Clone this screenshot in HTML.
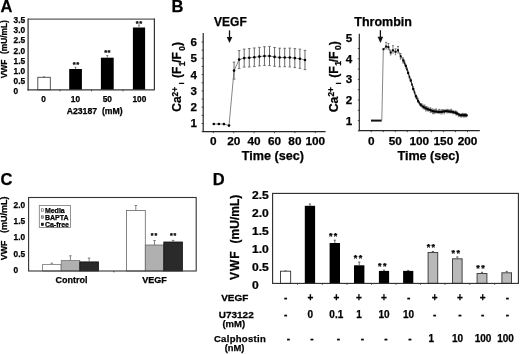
<!DOCTYPE html>
<html><head><meta charset="utf-8"><style>
html,body{margin:0;padding:0;background:#fff;}
svg{display:block;will-change:transform;filter:blur(0.3px);}
text{font-family:"Liberation Sans",sans-serif;font-weight:bold;fill:#000;stroke:#000;stroke-width:0.25px;}
</style></head><body>
<svg width="520" height="354" viewBox="0 0 520 354">
<rect width="520" height="354" fill="#fff"/>
<text x="0.40" y="11.60" font-size="16.5" text-anchor="start" >A</text>
<text x="13.60" y="93.96" font-size="8.3" text-anchor="start" >0</text>
<text x="13.60" y="83.86" font-size="8.3" text-anchor="start" >0.5</text>
<text x="13.60" y="73.76" font-size="8.3" text-anchor="start" >1.0</text>
<text x="13.60" y="63.66" font-size="8.3" text-anchor="start" >1.5</text>
<text x="13.60" y="53.56" font-size="8.3" text-anchor="start" >2.0</text>
<text x="13.60" y="43.46" font-size="8.3" text-anchor="start" >2.5</text>
<text x="13.60" y="33.36" font-size="8.3" text-anchor="start" >3.0</text>
<text x="13.60" y="23.26" font-size="8.3" text-anchor="start" >3.5</text>
<text transform="translate(6.60,78.30) rotate(-90) scale(1.0,1)" font-size="8.4" text-anchor="start">VWF</text>
<text transform="translate(6.70,54.10) rotate(-90) scale(1.0,1)" font-size="8.4" text-anchor="start">(mU/mL)</text>
<rect x="37.80" y="77.30" width="12.50" height="12.50" fill="#fff" stroke="#444" stroke-width="0.9"/>
<line x1="42.90" y1="76.90" x2="45.10" y2="76.90" stroke="#555" stroke-width="0.8"/>
<rect x="69.20" y="69.00" width="12.70" height="20.80" fill="#000" stroke="none" stroke-width="1"/>
<line x1="75.55" y1="69.00" x2="75.55" y2="67.30" stroke="#666" stroke-width="0.9"/>
<line x1="74.65" y1="67.30" x2="76.45" y2="67.30" stroke="#666" stroke-width="0.9"/>
<text x="74.35" y="66.92" font-size="7.6" text-anchor="middle" >*</text>
<text x="77.75" y="66.92" font-size="7.6" text-anchor="middle" >*</text>
<rect x="100.90" y="57.70" width="12.80" height="32.10" fill="#000" stroke="none" stroke-width="1"/>
<line x1="107.30" y1="57.70" x2="107.30" y2="55.50" stroke="#666" stroke-width="0.9"/>
<line x1="106.40" y1="55.50" x2="108.20" y2="55.50" stroke="#666" stroke-width="0.9"/>
<text x="105.65" y="55.42" font-size="7.6" text-anchor="middle" >*</text>
<text x="109.05" y="55.42" font-size="7.6" text-anchor="middle" >*</text>
<rect x="132.90" y="27.50" width="12.20" height="62.30" fill="#000" stroke="none" stroke-width="1"/>
<line x1="139.00" y1="27.50" x2="139.00" y2="25.00" stroke="#666" stroke-width="0.9"/>
<line x1="138.10" y1="25.00" x2="139.90" y2="25.00" stroke="#666" stroke-width="0.9"/>
<text x="137.35" y="25.72" font-size="7.6" text-anchor="middle" >*</text>
<text x="140.75" y="25.72" font-size="7.6" text-anchor="middle" >*</text>
<line x1="28.10" y1="19.10" x2="154.40" y2="19.10" stroke="#5a5a5a" stroke-width="1.2"/>
<line x1="154.40" y1="18.50" x2="154.40" y2="89.80" stroke="#333" stroke-width="1.2"/>
<line x1="28.10" y1="18.50" x2="28.10" y2="90.40" stroke="#3a3a3a" stroke-width="1.3"/>
<line x1="27.50" y1="89.80" x2="155.00" y2="89.80" stroke="#3a3a3a" stroke-width="1.3"/>
<line x1="60.00" y1="89.80" x2="60.00" y2="91.30" stroke="#262626" stroke-width="0.8"/>
<line x1="91.50" y1="89.80" x2="91.50" y2="91.30" stroke="#262626" stroke-width="0.8"/>
<line x1="123.00" y1="89.80" x2="123.00" y2="91.30" stroke="#262626" stroke-width="0.8"/>
<text x="43.60" y="101.66" font-size="8.3" text-anchor="middle" >0</text>
<text x="75.40" y="101.66" font-size="8.3" text-anchor="middle" >10</text>
<text x="107.30" y="101.66" font-size="8.3" text-anchor="middle" >50</text>
<text x="139.40" y="101.66" font-size="8.3" text-anchor="middle" >100</text>
<text x="66.70" y="114.00" font-size="8.7" text-anchor="start" >A23187&#160;&#160;(mM)</text>
<text x="171.40" y="11.60" font-size="16.5" text-anchor="start" >B</text>
<line x1="203.20" y1="33.10" x2="203.20" y2="131.60" stroke="#262626" stroke-width="1.2"/>
<line x1="202.60" y1="131.60" x2="325.60" y2="131.60" stroke="#262626" stroke-width="1.2"/>
<line x1="201.60" y1="131.65" x2="203.20" y2="131.65" stroke="#262626" stroke-width="0.8"/>
<line x1="201.60" y1="123.50" x2="203.20" y2="123.50" stroke="#262626" stroke-width="0.8"/>
<line x1="201.60" y1="115.35" x2="203.20" y2="115.35" stroke="#262626" stroke-width="0.8"/>
<line x1="201.60" y1="107.20" x2="203.20" y2="107.20" stroke="#262626" stroke-width="0.8"/>
<line x1="201.60" y1="99.05" x2="203.20" y2="99.05" stroke="#262626" stroke-width="0.8"/>
<line x1="201.60" y1="90.90" x2="203.20" y2="90.90" stroke="#262626" stroke-width="0.8"/>
<line x1="201.60" y1="82.75" x2="203.20" y2="82.75" stroke="#262626" stroke-width="0.8"/>
<line x1="201.60" y1="74.60" x2="203.20" y2="74.60" stroke="#262626" stroke-width="0.8"/>
<line x1="201.60" y1="66.45" x2="203.20" y2="66.45" stroke="#262626" stroke-width="0.8"/>
<line x1="201.60" y1="58.30" x2="203.20" y2="58.30" stroke="#262626" stroke-width="0.8"/>
<line x1="201.60" y1="50.15" x2="203.20" y2="50.15" stroke="#262626" stroke-width="0.8"/>
<line x1="201.60" y1="42.00" x2="203.20" y2="42.00" stroke="#262626" stroke-width="0.8"/>
<line x1="213.30" y1="131.60" x2="213.30" y2="133.20" stroke="#262626" stroke-width="0.8"/>
<line x1="233.70" y1="131.60" x2="233.70" y2="133.20" stroke="#262626" stroke-width="0.8"/>
<line x1="254.10" y1="131.60" x2="254.10" y2="133.20" stroke="#262626" stroke-width="0.8"/>
<line x1="274.50" y1="131.60" x2="274.50" y2="133.20" stroke="#262626" stroke-width="0.8"/>
<line x1="294.90" y1="131.60" x2="294.90" y2="133.20" stroke="#262626" stroke-width="0.8"/>
<line x1="315.30" y1="131.60" x2="315.30" y2="133.20" stroke="#262626" stroke-width="0.8"/>
<text x="193.70" y="127.49" font-size="11.6" text-anchor="middle" >1</text>
<text x="193.70" y="111.19" font-size="11.6" text-anchor="middle" >2</text>
<text x="193.70" y="94.89" font-size="11.6" text-anchor="middle" >3</text>
<text x="193.70" y="78.59" font-size="11.6" text-anchor="middle" >4</text>
<text x="193.70" y="62.29" font-size="11.6" text-anchor="middle" >5</text>
<text x="193.70" y="45.99" font-size="11.6" text-anchor="middle" >6</text>
<text x="213.30" y="145.06" font-size="11.8" text-anchor="middle" >0</text>
<text x="233.70" y="145.06" font-size="11.8" text-anchor="middle" >20</text>
<text x="254.10" y="145.06" font-size="11.8" text-anchor="middle" >40</text>
<text x="274.50" y="145.06" font-size="11.8" text-anchor="middle" >60</text>
<text x="294.90" y="145.06" font-size="11.8" text-anchor="middle" >80</text>
<text x="315.30" y="145.06" font-size="11.8" text-anchor="middle" >100</text>
<text x="272.90" y="159.90" font-size="12.6" text-anchor="middle" >Time (sec)</text>
<text x="230.40" y="25.90" font-size="12" text-anchor="middle" >VEGF</text>
<line x1="229.50" y1="30.40" x2="229.50" y2="38.00" stroke="#111" stroke-width="1.3"/>
<path d="M226.7,37.0 L232.3,37.0 L229.5,42.9 Z" fill="#111"/>
<line x1="234.06" y1="62.10" x2="234.06" y2="79.10" stroke="#555" stroke-width="0.9"/>
<line x1="232.76" y1="62.10" x2="235.36" y2="62.10" stroke="#555" stroke-width="0.8"/>
<line x1="232.76" y1="79.10" x2="235.36" y2="79.10" stroke="#555" stroke-width="0.8"/>
<line x1="239.12" y1="50.60" x2="239.12" y2="68.60" stroke="#555" stroke-width="0.9"/>
<line x1="237.82" y1="50.60" x2="240.43" y2="50.60" stroke="#555" stroke-width="0.8"/>
<line x1="237.82" y1="68.60" x2="240.43" y2="68.60" stroke="#555" stroke-width="0.8"/>
<line x1="244.19" y1="49.10" x2="244.19" y2="67.10" stroke="#555" stroke-width="0.9"/>
<line x1="242.89" y1="49.10" x2="245.49" y2="49.10" stroke="#555" stroke-width="0.8"/>
<line x1="242.89" y1="67.10" x2="245.49" y2="67.10" stroke="#555" stroke-width="0.8"/>
<line x1="249.25" y1="48.55" x2="249.25" y2="66.95" stroke="#555" stroke-width="0.9"/>
<line x1="247.95" y1="48.55" x2="250.56" y2="48.55" stroke="#555" stroke-width="0.8"/>
<line x1="247.95" y1="66.95" x2="250.56" y2="66.95" stroke="#555" stroke-width="0.8"/>
<line x1="254.32" y1="47.95" x2="254.32" y2="66.55" stroke="#555" stroke-width="0.9"/>
<line x1="253.02" y1="47.95" x2="255.62" y2="47.95" stroke="#555" stroke-width="0.8"/>
<line x1="253.02" y1="66.55" x2="255.62" y2="66.55" stroke="#555" stroke-width="0.8"/>
<line x1="259.38" y1="47.30" x2="259.38" y2="65.90" stroke="#555" stroke-width="0.9"/>
<line x1="258.08" y1="47.30" x2="260.69" y2="47.30" stroke="#555" stroke-width="0.8"/>
<line x1="258.08" y1="65.90" x2="260.69" y2="65.90" stroke="#555" stroke-width="0.8"/>
<line x1="264.45" y1="46.70" x2="264.45" y2="65.50" stroke="#555" stroke-width="0.9"/>
<line x1="263.15" y1="46.70" x2="265.75" y2="46.70" stroke="#555" stroke-width="0.8"/>
<line x1="263.15" y1="65.50" x2="265.75" y2="65.50" stroke="#555" stroke-width="0.8"/>
<line x1="269.51" y1="46.40" x2="269.51" y2="65.60" stroke="#555" stroke-width="0.9"/>
<line x1="268.21" y1="46.40" x2="270.81" y2="46.40" stroke="#555" stroke-width="0.8"/>
<line x1="268.21" y1="65.60" x2="270.81" y2="65.60" stroke="#555" stroke-width="0.8"/>
<line x1="274.58" y1="47.50" x2="274.58" y2="66.30" stroke="#555" stroke-width="0.9"/>
<line x1="273.28" y1="47.50" x2="275.88" y2="47.50" stroke="#555" stroke-width="0.8"/>
<line x1="273.28" y1="66.30" x2="275.88" y2="66.30" stroke="#555" stroke-width="0.8"/>
<line x1="279.64" y1="48.20" x2="279.64" y2="66.80" stroke="#555" stroke-width="0.9"/>
<line x1="278.34" y1="48.20" x2="280.94" y2="48.20" stroke="#555" stroke-width="0.8"/>
<line x1="278.34" y1="66.80" x2="280.94" y2="66.80" stroke="#555" stroke-width="0.8"/>
<line x1="284.71" y1="48.30" x2="284.71" y2="66.70" stroke="#555" stroke-width="0.9"/>
<line x1="283.41" y1="48.30" x2="286.01" y2="48.30" stroke="#555" stroke-width="0.8"/>
<line x1="283.41" y1="66.70" x2="286.01" y2="66.70" stroke="#555" stroke-width="0.8"/>
<line x1="289.77" y1="48.10" x2="289.77" y2="66.90" stroke="#555" stroke-width="0.9"/>
<line x1="288.47" y1="48.10" x2="291.07" y2="48.10" stroke="#555" stroke-width="0.8"/>
<line x1="288.47" y1="66.90" x2="291.07" y2="66.90" stroke="#555" stroke-width="0.8"/>
<line x1="294.84" y1="48.60" x2="294.84" y2="67.60" stroke="#555" stroke-width="0.9"/>
<line x1="293.54" y1="48.60" x2="296.14" y2="48.60" stroke="#555" stroke-width="0.8"/>
<line x1="293.54" y1="67.60" x2="296.14" y2="67.60" stroke="#555" stroke-width="0.8"/>
<line x1="299.90" y1="49.15" x2="299.90" y2="68.35" stroke="#555" stroke-width="0.9"/>
<line x1="298.60" y1="49.15" x2="301.20" y2="49.15" stroke="#555" stroke-width="0.8"/>
<line x1="298.60" y1="68.35" x2="301.20" y2="68.35" stroke="#555" stroke-width="0.8"/>
<line x1="304.97" y1="50.40" x2="304.97" y2="69.60" stroke="#555" stroke-width="0.9"/>
<line x1="303.67" y1="50.40" x2="306.27" y2="50.40" stroke="#555" stroke-width="0.8"/>
<line x1="303.67" y1="69.60" x2="306.27" y2="69.60" stroke="#555" stroke-width="0.8"/>
<polyline points="213.80,124.00 218.87,124.00 223.93,124.10 229.00,125.60 234.06,70.60 239.12,59.60 244.19,58.10 249.25,57.75 254.32,57.25 259.38,56.60 264.45,56.10 269.51,56.00 274.58,56.90 279.64,57.50 284.71,57.50 289.77,57.50 294.84,58.10 299.90,58.75 304.97,60.00" fill="none" stroke="#666" stroke-width="0.8"/>
<circle cx="213.80" cy="124.00" r="1.3" fill="#000"/>
<circle cx="218.87" cy="124.00" r="1.3" fill="#000"/>
<circle cx="223.93" cy="124.10" r="1.3" fill="#000"/>
<circle cx="229.00" cy="125.60" r="1.3" fill="#000"/>
<circle cx="234.06" cy="70.60" r="1.3" fill="#000"/>
<circle cx="239.12" cy="59.60" r="1.3" fill="#000"/>
<circle cx="244.19" cy="58.10" r="1.3" fill="#000"/>
<circle cx="249.25" cy="57.75" r="1.3" fill="#000"/>
<circle cx="254.32" cy="57.25" r="1.3" fill="#000"/>
<circle cx="259.38" cy="56.60" r="1.3" fill="#000"/>
<circle cx="264.45" cy="56.10" r="1.3" fill="#000"/>
<circle cx="269.51" cy="56.00" r="1.3" fill="#000"/>
<circle cx="274.58" cy="56.90" r="1.3" fill="#000"/>
<circle cx="279.64" cy="57.50" r="1.3" fill="#000"/>
<circle cx="284.71" cy="57.50" r="1.3" fill="#000"/>
<circle cx="289.77" cy="57.50" r="1.3" fill="#000"/>
<circle cx="294.84" cy="58.10" r="1.3" fill="#000"/>
<circle cx="299.90" cy="58.75" r="1.3" fill="#000"/>
<circle cx="304.97" cy="60.00" r="1.3" fill="#000"/>
<g transform="translate(181.10,110.40) rotate(-90) scale(1.0,1)">
<text x="-1.3" y="0" font-size="12">Ca</text>
<text x="14.0" y="-3.4" font-size="8.2">2+</text>
<text x="26.0" y="3.3" font-size="7.5">i</text>
<text x="32.5" y="0" font-size="12">(F</text>
<text x="44.2" y="3.4" font-size="8.3">1</text>
<text x="47.6" y="0" font-size="12">/F</text>
<text x="59.6" y="3.4" font-size="8.3">0</text>
<text x="64.4" y="0" font-size="12">)</text>
</g>
<line x1="359.30" y1="33.70" x2="359.30" y2="130.70" stroke="#262626" stroke-width="1.2"/>
<line x1="358.70" y1="130.70" x2="479.80" y2="130.70" stroke="#262626" stroke-width="1.2"/>
<line x1="357.80" y1="130.90" x2="359.30" y2="130.90" stroke="#262626" stroke-width="0.8"/>
<line x1="357.80" y1="120.60" x2="359.30" y2="120.60" stroke="#262626" stroke-width="0.8"/>
<line x1="357.80" y1="110.30" x2="359.30" y2="110.30" stroke="#262626" stroke-width="0.8"/>
<line x1="357.80" y1="100.00" x2="359.30" y2="100.00" stroke="#262626" stroke-width="0.8"/>
<line x1="357.80" y1="89.70" x2="359.30" y2="89.70" stroke="#262626" stroke-width="0.8"/>
<line x1="357.80" y1="79.40" x2="359.30" y2="79.40" stroke="#262626" stroke-width="0.8"/>
<line x1="357.80" y1="69.10" x2="359.30" y2="69.10" stroke="#262626" stroke-width="0.8"/>
<line x1="357.80" y1="58.80" x2="359.30" y2="58.80" stroke="#262626" stroke-width="0.8"/>
<line x1="357.80" y1="48.50" x2="359.30" y2="48.50" stroke="#262626" stroke-width="0.8"/>
<line x1="371.20" y1="130.70" x2="371.20" y2="132.20" stroke="#262626" stroke-width="0.8"/>
<line x1="383.24" y1="130.70" x2="383.24" y2="132.20" stroke="#262626" stroke-width="0.8"/>
<line x1="395.27" y1="130.70" x2="395.27" y2="132.20" stroke="#262626" stroke-width="0.8"/>
<line x1="407.31" y1="130.70" x2="407.31" y2="132.20" stroke="#262626" stroke-width="0.8"/>
<line x1="419.35" y1="130.70" x2="419.35" y2="132.20" stroke="#262626" stroke-width="0.8"/>
<line x1="431.39" y1="130.70" x2="431.39" y2="132.20" stroke="#262626" stroke-width="0.8"/>
<line x1="443.42" y1="130.70" x2="443.42" y2="132.20" stroke="#262626" stroke-width="0.8"/>
<line x1="455.46" y1="130.70" x2="455.46" y2="132.20" stroke="#262626" stroke-width="0.8"/>
<line x1="467.50" y1="130.70" x2="467.50" y2="132.20" stroke="#262626" stroke-width="0.8"/>
<text x="349.00" y="124.59" font-size="11.6" text-anchor="middle" >1</text>
<text x="349.00" y="103.99" font-size="11.6" text-anchor="middle" >2</text>
<text x="349.00" y="83.39" font-size="11.6" text-anchor="middle" >3</text>
<text x="349.00" y="62.79" font-size="11.6" text-anchor="middle" >4</text>
<text x="349.00" y="42.19" font-size="11.6" text-anchor="middle" >5</text>
<text x="371.20" y="144.56" font-size="11.8" text-anchor="middle" >0</text>
<text x="395.27" y="144.56" font-size="11.8" text-anchor="middle" >50</text>
<text x="419.35" y="144.56" font-size="11.8" text-anchor="middle" >100</text>
<text x="443.42" y="144.56" font-size="11.8" text-anchor="middle" >150</text>
<text x="467.50" y="144.56" font-size="11.8" text-anchor="middle" >200</text>
<text x="428.50" y="159.90" font-size="12.6" text-anchor="middle" >Time (sec)</text>
<text x="383.10" y="25.80" font-size="12.5" text-anchor="middle" >Thrombin</text>
<line x1="380.40" y1="30.20" x2="380.40" y2="37.80" stroke="#111" stroke-width="1.3"/>
<path d="M377.6,36.8 L383.2,36.8 L380.4,43.0 Z" fill="#111"/>
<g transform="translate(337.60,110.90) rotate(-90) scale(1.02,1)">
<text x="-1.3" y="0" font-size="12">Ca</text>
<text x="14.0" y="-3.4" font-size="8.2">2+</text>
<text x="26.0" y="3.3" font-size="7.5">i</text>
<text x="32.5" y="0" font-size="12">(F</text>
<text x="44.2" y="3.4" font-size="8.3">1</text>
<text x="47.6" y="0" font-size="12">/F</text>
<text x="59.6" y="3.4" font-size="8.3">0</text>
<text x="64.4" y="0" font-size="12">)</text>
</g>
<line x1="371.00" y1="120.60" x2="381.70" y2="120.60" stroke="#111" stroke-width="2.0"/>
<line x1="381.80" y1="120.60" x2="383.30" y2="49.40" stroke="#777" stroke-width="0.9"/>
<polyline points="383.50,49.20 384.80,47.85 386.10,46.50 387.25,46.80 388.40,47.10 389.55,49.85 390.70,52.60 391.85,51.45 393.00,50.30 394.25,51.05 395.50,51.80 396.75,51.05 398.00,50.30 399.35,53.30 400.70,56.30 402.05,58.40 403.40,60.50" fill="none" stroke="#555" stroke-width="0.9" stroke-linejoin="round"/>
<polyline points="403.40,60.50 404.60,63.15 405.80,65.80 407.00,69.45 408.20,73.10 409.45,76.75 410.70,80.40 412.00,84.70 413.30,89.00 414.55,92.55 415.80,96.10 416.90,98.50 418.00,100.90 419.30,102.75 420.60,104.60 422.05,105.85 423.50,107.10 424.65,107.70 425.80,108.30 426.95,108.85 428.10,109.40 429.30,109.85 430.50,110.30 431.65,110.75 432.80,111.20 433.95,111.35 435.10,111.50 436.25,111.60 437.40,111.70 438.55,111.80 439.70,111.90 440.85,111.80 442.00,111.70 443.15,111.55 444.30,111.40 445.45,111.30 446.60,111.20 447.75,111.35 448.90,111.50 450.05,111.60 451.20,111.70 452.35,112.00 453.50,112.30 455.20,112.60 456.10,113.05 457.00,113.50 458.70,114.40 460.40,115.20 461.45,115.30 462.50,115.40 463.55,115.35 464.60,115.30 465.60,115.35 466.60,115.40" fill="none" stroke="#222" stroke-width="1.1" stroke-linejoin="round"/>
<line x1="386.10" y1="42.30" x2="386.10" y2="49.00" stroke="#444" stroke-width="0.6"/>
<line x1="385.10" y1="42.30" x2="387.10" y2="42.30" stroke="#444" stroke-width="0.7"/>
<line x1="385.30" y1="49.00" x2="386.90" y2="49.00" stroke="#666" stroke-width="0.6"/>
<line x1="388.40" y1="43.60" x2="388.40" y2="49.60" stroke="#444" stroke-width="0.6"/>
<line x1="387.40" y1="43.60" x2="389.40" y2="43.60" stroke="#444" stroke-width="0.7"/>
<line x1="387.60" y1="49.60" x2="389.20" y2="49.60" stroke="#666" stroke-width="0.6"/>
<line x1="390.70" y1="50.10" x2="390.70" y2="55.10" stroke="#444" stroke-width="0.6"/>
<line x1="389.70" y1="50.10" x2="391.70" y2="50.10" stroke="#444" stroke-width="0.7"/>
<line x1="389.90" y1="55.10" x2="391.50" y2="55.10" stroke="#666" stroke-width="0.6"/>
<line x1="393.00" y1="45.70" x2="393.00" y2="53.10" stroke="#444" stroke-width="0.6"/>
<line x1="392.00" y1="45.70" x2="394.00" y2="45.70" stroke="#444" stroke-width="0.7"/>
<line x1="392.20" y1="53.10" x2="393.80" y2="53.10" stroke="#666" stroke-width="0.6"/>
<line x1="395.50" y1="48.80" x2="395.50" y2="54.80" stroke="#444" stroke-width="0.6"/>
<line x1="394.50" y1="48.80" x2="396.50" y2="48.80" stroke="#444" stroke-width="0.7"/>
<line x1="394.70" y1="54.80" x2="396.30" y2="54.80" stroke="#666" stroke-width="0.6"/>
<line x1="398.00" y1="46.50" x2="398.00" y2="53.10" stroke="#444" stroke-width="0.6"/>
<line x1="397.00" y1="46.50" x2="399.00" y2="46.50" stroke="#444" stroke-width="0.7"/>
<line x1="397.20" y1="53.10" x2="398.80" y2="53.10" stroke="#666" stroke-width="0.6"/>
<line x1="400.50" y1="53.50" x2="400.50" y2="59.30" stroke="#444" stroke-width="0.6"/>
<line x1="399.50" y1="53.50" x2="401.50" y2="53.50" stroke="#444" stroke-width="0.7"/>
<line x1="399.70" y1="59.30" x2="401.30" y2="59.30" stroke="#666" stroke-width="0.6"/>
<line x1="403.00" y1="57.90" x2="403.00" y2="63.10" stroke="#444" stroke-width="0.6"/>
<line x1="402.00" y1="57.90" x2="404.00" y2="57.90" stroke="#444" stroke-width="0.7"/>
<line x1="402.20" y1="63.10" x2="403.80" y2="63.10" stroke="#666" stroke-width="0.6"/>
<line x1="403.40" y1="58.48" x2="403.40" y2="62.76" stroke="#333" stroke-width="0.6"/>
<rect x="402.60" y="59.76" width="1.6" height="1.6" fill="#111"/>
<line x1="404.60" y1="61.07" x2="404.60" y2="65.71" stroke="#333" stroke-width="0.6"/>
<line x1="403.80" y1="61.07" x2="405.40" y2="61.07" stroke="#444" stroke-width="0.6"/>
<rect x="403.80" y="62.47" width="1.6" height="1.6" fill="#111"/>
<line x1="405.80" y1="64.19" x2="405.80" y2="68.29" stroke="#333" stroke-width="0.6"/>
<line x1="405.00" y1="68.29" x2="406.60" y2="68.29" stroke="#555" stroke-width="0.6"/>
<rect x="405.00" y="65.22" width="1.6" height="1.6" fill="#111"/>
<line x1="407.00" y1="67.77" x2="407.00" y2="71.07" stroke="#333" stroke-width="0.6"/>
<line x1="406.20" y1="67.77" x2="407.80" y2="67.77" stroke="#444" stroke-width="0.6"/>
<rect x="406.20" y="68.63" width="1.6" height="1.6" fill="#111"/>
<line x1="408.20" y1="71.00" x2="408.20" y2="74.23" stroke="#333" stroke-width="0.6"/>
<line x1="407.40" y1="71.00" x2="409.00" y2="71.00" stroke="#444" stroke-width="0.6"/>
<rect x="407.40" y="72.06" width="1.6" height="1.6" fill="#111"/>
<line x1="409.45" y1="75.46" x2="409.45" y2="78.58" stroke="#333" stroke-width="0.6"/>
<line x1="408.65" y1="78.58" x2="410.25" y2="78.58" stroke="#555" stroke-width="0.6"/>
<rect x="408.65" y="76.08" width="1.6" height="1.6" fill="#111"/>
<line x1="410.70" y1="78.99" x2="410.70" y2="82.04" stroke="#333" stroke-width="0.6"/>
<line x1="409.90" y1="78.99" x2="411.50" y2="78.99" stroke="#444" stroke-width="0.6"/>
<rect x="409.90" y="79.66" width="1.6" height="1.6" fill="#111"/>
<line x1="412.00" y1="82.79" x2="412.00" y2="86.02" stroke="#333" stroke-width="0.6"/>
<rect x="411.20" y="83.75" width="1.6" height="1.6" fill="#111"/>
<line x1="413.30" y1="86.43" x2="413.30" y2="91.15" stroke="#333" stroke-width="0.6"/>
<line x1="412.50" y1="86.43" x2="414.10" y2="86.43" stroke="#444" stroke-width="0.6"/>
<rect x="412.50" y="88.09" width="1.6" height="1.6" fill="#111"/>
<line x1="414.55" y1="89.91" x2="414.55" y2="94.60" stroke="#333" stroke-width="0.6"/>
<rect x="413.75" y="91.60" width="1.6" height="1.6" fill="#111"/>
<line x1="415.80" y1="94.79" x2="415.80" y2="98.19" stroke="#333" stroke-width="0.6"/>
<line x1="415.00" y1="94.79" x2="416.60" y2="94.79" stroke="#444" stroke-width="0.6"/>
<line x1="415.00" y1="98.19" x2="416.60" y2="98.19" stroke="#555" stroke-width="0.6"/>
<rect x="415.00" y="95.50" width="1.6" height="1.6" fill="#111"/>
<line x1="416.90" y1="96.68" x2="416.90" y2="99.61" stroke="#333" stroke-width="0.6"/>
<line x1="416.10" y1="96.68" x2="417.70" y2="96.68" stroke="#444" stroke-width="0.6"/>
<rect x="416.10" y="97.52" width="1.6" height="1.6" fill="#111"/>
<line x1="418.00" y1="98.33" x2="418.00" y2="102.48" stroke="#333" stroke-width="0.6"/>
<line x1="417.20" y1="98.33" x2="418.80" y2="98.33" stroke="#444" stroke-width="0.6"/>
<line x1="417.20" y1="102.48" x2="418.80" y2="102.48" stroke="#555" stroke-width="0.6"/>
<rect x="417.20" y="99.85" width="1.6" height="1.6" fill="#111"/>
<line x1="419.30" y1="101.19" x2="419.30" y2="104.95" stroke="#333" stroke-width="0.6"/>
<line x1="418.50" y1="101.19" x2="420.10" y2="101.19" stroke="#444" stroke-width="0.6"/>
<rect x="418.50" y="102.11" width="1.6" height="1.6" fill="#111"/>
<line x1="420.60" y1="103.35" x2="420.60" y2="106.26" stroke="#333" stroke-width="0.6"/>
<line x1="419.80" y1="106.26" x2="421.40" y2="106.26" stroke="#555" stroke-width="0.6"/>
<rect x="419.80" y="103.90" width="1.6" height="1.6" fill="#111"/>
<line x1="422.05" y1="103.85" x2="422.05" y2="108.34" stroke="#333" stroke-width="0.6"/>
<line x1="421.25" y1="103.85" x2="422.85" y2="103.85" stroke="#444" stroke-width="0.6"/>
<rect x="421.25" y="105.17" width="1.6" height="1.6" fill="#111"/>
<line x1="423.50" y1="104.99" x2="423.50" y2="108.94" stroke="#333" stroke-width="0.6"/>
<line x1="422.70" y1="104.99" x2="424.30" y2="104.99" stroke="#444" stroke-width="0.6"/>
<line x1="422.70" y1="108.94" x2="424.30" y2="108.94" stroke="#555" stroke-width="0.6"/>
<rect x="422.70" y="106.23" width="1.6" height="1.6" fill="#111"/>
<line x1="424.65" y1="105.03" x2="424.65" y2="109.74" stroke="#333" stroke-width="0.6"/>
<line x1="423.85" y1="105.03" x2="425.45" y2="105.03" stroke="#444" stroke-width="0.6"/>
<rect x="423.85" y="106.74" width="1.6" height="1.6" fill="#111"/>
<line x1="425.80" y1="106.39" x2="425.80" y2="111.07" stroke="#333" stroke-width="0.6"/>
<line x1="425.00" y1="106.39" x2="426.60" y2="106.39" stroke="#444" stroke-width="0.6"/>
<line x1="425.00" y1="111.07" x2="426.60" y2="111.07" stroke="#555" stroke-width="0.6"/>
<rect x="425.00" y="107.71" width="1.6" height="1.6" fill="#111"/>
<line x1="426.95" y1="106.70" x2="426.95" y2="111.05" stroke="#333" stroke-width="0.6"/>
<line x1="426.15" y1="106.70" x2="427.75" y2="106.70" stroke="#444" stroke-width="0.6"/>
<rect x="426.15" y="108.06" width="1.6" height="1.6" fill="#111"/>
<line x1="428.10" y1="107.44" x2="428.10" y2="111.96" stroke="#333" stroke-width="0.6"/>
<line x1="427.30" y1="107.44" x2="428.90" y2="107.44" stroke="#444" stroke-width="0.6"/>
<rect x="427.30" y="108.75" width="1.6" height="1.6" fill="#111"/>
<line x1="429.30" y1="107.70" x2="429.30" y2="111.18" stroke="#333" stroke-width="0.6"/>
<rect x="428.50" y="108.85" width="1.6" height="1.6" fill="#111"/>
<line x1="430.50" y1="107.82" x2="430.50" y2="112.46" stroke="#333" stroke-width="0.6"/>
<line x1="429.70" y1="107.82" x2="431.30" y2="107.82" stroke="#444" stroke-width="0.6"/>
<line x1="429.70" y1="112.46" x2="431.30" y2="112.46" stroke="#555" stroke-width="0.6"/>
<rect x="429.70" y="109.42" width="1.6" height="1.6" fill="#111"/>
<line x1="431.65" y1="108.99" x2="431.65" y2="112.14" stroke="#333" stroke-width="0.6"/>
<line x1="430.85" y1="108.99" x2="432.45" y2="108.99" stroke="#444" stroke-width="0.6"/>
<line x1="430.85" y1="112.14" x2="432.45" y2="112.14" stroke="#555" stroke-width="0.6"/>
<rect x="430.85" y="109.86" width="1.6" height="1.6" fill="#111"/>
<line x1="432.80" y1="108.99" x2="432.80" y2="113.79" stroke="#333" stroke-width="0.6"/>
<line x1="432.00" y1="108.99" x2="433.60" y2="108.99" stroke="#444" stroke-width="0.6"/>
<line x1="432.00" y1="113.79" x2="433.60" y2="113.79" stroke="#555" stroke-width="0.6"/>
<rect x="432.00" y="110.49" width="1.6" height="1.6" fill="#111"/>
<line x1="433.95" y1="109.90" x2="433.95" y2="113.77" stroke="#333" stroke-width="0.6"/>
<line x1="433.15" y1="109.90" x2="434.75" y2="109.90" stroke="#444" stroke-width="0.6"/>
<line x1="433.15" y1="113.77" x2="434.75" y2="113.77" stroke="#555" stroke-width="0.6"/>
<rect x="433.15" y="110.79" width="1.6" height="1.6" fill="#111"/>
<line x1="435.10" y1="109.37" x2="435.10" y2="113.82" stroke="#333" stroke-width="0.6"/>
<line x1="434.30" y1="109.37" x2="435.90" y2="109.37" stroke="#444" stroke-width="0.6"/>
<rect x="434.30" y="110.75" width="1.6" height="1.6" fill="#111"/>
<line x1="436.25" y1="108.84" x2="436.25" y2="113.47" stroke="#333" stroke-width="0.6"/>
<line x1="435.45" y1="108.84" x2="437.05" y2="108.84" stroke="#444" stroke-width="0.6"/>
<rect x="435.45" y="110.58" width="1.6" height="1.6" fill="#111"/>
<line x1="437.40" y1="110.51" x2="437.40" y2="113.57" stroke="#333" stroke-width="0.6"/>
<rect x="436.60" y="111.07" width="1.6" height="1.6" fill="#111"/>
<line x1="438.55" y1="109.74" x2="438.55" y2="114.12" stroke="#333" stroke-width="0.6"/>
<line x1="437.75" y1="109.74" x2="439.35" y2="109.74" stroke="#444" stroke-width="0.6"/>
<rect x="437.75" y="111.07" width="1.6" height="1.6" fill="#111"/>
<line x1="439.70" y1="109.30" x2="439.70" y2="113.79" stroke="#333" stroke-width="0.6"/>
<line x1="438.90" y1="109.30" x2="440.50" y2="109.30" stroke="#444" stroke-width="0.6"/>
<rect x="438.90" y="110.92" width="1.6" height="1.6" fill="#111"/>
<line x1="440.85" y1="110.05" x2="440.85" y2="114.55" stroke="#333" stroke-width="0.6"/>
<rect x="440.05" y="111.25" width="1.6" height="1.6" fill="#111"/>
<line x1="442.00" y1="109.56" x2="442.00" y2="113.82" stroke="#333" stroke-width="0.6"/>
<line x1="441.20" y1="109.56" x2="442.80" y2="109.56" stroke="#444" stroke-width="0.6"/>
<line x1="441.20" y1="113.82" x2="442.80" y2="113.82" stroke="#555" stroke-width="0.6"/>
<rect x="441.20" y="110.89" width="1.6" height="1.6" fill="#111"/>
<line x1="443.15" y1="109.91" x2="443.15" y2="113.00" stroke="#333" stroke-width="0.6"/>
<line x1="442.35" y1="109.91" x2="443.95" y2="109.91" stroke="#444" stroke-width="0.6"/>
<rect x="442.35" y="110.70" width="1.6" height="1.6" fill="#111"/>
<line x1="444.30" y1="109.83" x2="444.30" y2="113.89" stroke="#333" stroke-width="0.6"/>
<line x1="443.50" y1="109.83" x2="445.10" y2="109.83" stroke="#444" stroke-width="0.6"/>
<line x1="443.50" y1="113.89" x2="445.10" y2="113.89" stroke="#555" stroke-width="0.6"/>
<rect x="443.50" y="110.83" width="1.6" height="1.6" fill="#111"/>
<line x1="445.45" y1="109.22" x2="445.45" y2="112.56" stroke="#333" stroke-width="0.6"/>
<rect x="444.65" y="110.29" width="1.6" height="1.6" fill="#111"/>
<line x1="446.60" y1="108.88" x2="446.60" y2="113.25" stroke="#333" stroke-width="0.6"/>
<rect x="445.80" y="110.33" width="1.6" height="1.6" fill="#111"/>
<line x1="447.75" y1="109.35" x2="447.75" y2="113.67" stroke="#333" stroke-width="0.6"/>
<line x1="446.95" y1="109.35" x2="448.55" y2="109.35" stroke="#444" stroke-width="0.6"/>
<rect x="446.95" y="110.63" width="1.6" height="1.6" fill="#111"/>
<line x1="448.90" y1="109.40" x2="448.90" y2="113.17" stroke="#333" stroke-width="0.6"/>
<rect x="448.10" y="110.59" width="1.6" height="1.6" fill="#111"/>
<line x1="450.05" y1="109.05" x2="450.05" y2="113.74" stroke="#333" stroke-width="0.6"/>
<rect x="449.25" y="110.70" width="1.6" height="1.6" fill="#111"/>
<line x1="451.20" y1="109.26" x2="451.20" y2="113.16" stroke="#333" stroke-width="0.6"/>
<line x1="450.40" y1="109.26" x2="452.00" y2="109.26" stroke="#444" stroke-width="0.6"/>
<rect x="450.40" y="110.66" width="1.6" height="1.6" fill="#111"/>
<line x1="452.35" y1="109.75" x2="452.35" y2="114.18" stroke="#333" stroke-width="0.6"/>
<rect x="451.55" y="111.18" width="1.6" height="1.6" fill="#111"/>
<line x1="453.50" y1="110.10" x2="453.50" y2="114.19" stroke="#333" stroke-width="0.6"/>
<rect x="452.70" y="111.42" width="1.6" height="1.6" fill="#111"/>
<line x1="455.20" y1="110.21" x2="455.20" y2="114.69" stroke="#333" stroke-width="0.6"/>
<rect x="454.40" y="111.73" width="1.6" height="1.6" fill="#111"/>
<line x1="456.10" y1="111.17" x2="456.10" y2="115.88" stroke="#333" stroke-width="0.6"/>
<line x1="455.30" y1="111.17" x2="456.90" y2="111.17" stroke="#444" stroke-width="0.6"/>
<rect x="455.30" y="112.49" width="1.6" height="1.6" fill="#111"/>
<line x1="457.00" y1="110.93" x2="457.00" y2="115.40" stroke="#333" stroke-width="0.6"/>
<rect x="456.20" y="112.53" width="1.6" height="1.6" fill="#111"/>
<line x1="458.70" y1="112.47" x2="458.70" y2="116.71" stroke="#333" stroke-width="0.6"/>
<line x1="457.90" y1="116.71" x2="459.50" y2="116.71" stroke="#555" stroke-width="0.6"/>
<rect x="457.90" y="113.70" width="1.6" height="1.6" fill="#111"/>
<line x1="460.40" y1="113.50" x2="460.40" y2="117.46" stroke="#333" stroke-width="0.6"/>
<rect x="459.60" y="114.54" width="1.6" height="1.6" fill="#111"/>
<line x1="461.45" y1="113.25" x2="461.45" y2="117.60" stroke="#333" stroke-width="0.6"/>
<rect x="460.65" y="114.56" width="1.6" height="1.6" fill="#111"/>
<line x1="462.50" y1="113.37" x2="462.50" y2="116.49" stroke="#333" stroke-width="0.6"/>
<line x1="461.70" y1="113.37" x2="463.30" y2="113.37" stroke="#444" stroke-width="0.6"/>
<rect x="461.70" y="114.36" width="1.6" height="1.6" fill="#111"/>
<line x1="463.55" y1="112.98" x2="463.55" y2="117.15" stroke="#333" stroke-width="0.6"/>
<line x1="462.75" y1="117.15" x2="464.35" y2="117.15" stroke="#555" stroke-width="0.6"/>
<rect x="462.75" y="114.41" width="1.6" height="1.6" fill="#111"/>
<line x1="464.60" y1="113.65" x2="464.60" y2="116.90" stroke="#333" stroke-width="0.6"/>
<line x1="463.80" y1="113.65" x2="465.40" y2="113.65" stroke="#444" stroke-width="0.6"/>
<line x1="463.80" y1="116.90" x2="465.40" y2="116.90" stroke="#555" stroke-width="0.6"/>
<rect x="463.80" y="114.49" width="1.6" height="1.6" fill="#111"/>
<line x1="465.60" y1="113.59" x2="465.60" y2="116.75" stroke="#333" stroke-width="0.6"/>
<line x1="464.80" y1="113.59" x2="466.40" y2="113.59" stroke="#444" stroke-width="0.6"/>
<line x1="464.80" y1="116.75" x2="466.40" y2="116.75" stroke="#555" stroke-width="0.6"/>
<rect x="464.80" y="114.46" width="1.6" height="1.6" fill="#111"/>
<line x1="466.60" y1="113.59" x2="466.60" y2="117.15" stroke="#333" stroke-width="0.6"/>
<rect x="465.80" y="114.58" width="1.6" height="1.6" fill="#111"/>
<rect x="382.50" y="48.20" width="2.0" height="2.0" fill="#000"/>
<rect x="385.10" y="45.50" width="2.0" height="2.0" fill="#000"/>
<rect x="387.40" y="46.10" width="2.0" height="2.0" fill="#000"/>
<rect x="389.70" y="51.60" width="2.0" height="2.0" fill="#000"/>
<rect x="392.00" y="49.30" width="2.0" height="2.0" fill="#000"/>
<rect x="394.50" y="50.80" width="2.0" height="2.0" fill="#000"/>
<rect x="397.00" y="49.30" width="2.0" height="2.0" fill="#000"/>
<rect x="399.70" y="55.30" width="2.0" height="2.0" fill="#000"/>
<rect x="402.40" y="59.50" width="2.0" height="2.0" fill="#000"/>
<rect x="404.80" y="64.80" width="2.0" height="2.0" fill="#000"/>
<rect x="407.20" y="72.10" width="2.0" height="2.0" fill="#000"/>
<rect x="409.70" y="79.40" width="2.0" height="2.0" fill="#000"/>
<rect x="412.30" y="88.00" width="2.0" height="2.0" fill="#000"/>
<rect x="414.80" y="95.10" width="2.0" height="2.0" fill="#000"/>
<rect x="417.00" y="99.90" width="2.0" height="2.0" fill="#000"/>
<rect x="419.60" y="103.60" width="2.0" height="2.0" fill="#000"/>
<rect x="422.50" y="106.10" width="2.0" height="2.0" fill="#000"/>
<rect x="424.80" y="107.30" width="2.0" height="2.0" fill="#000"/>
<rect x="427.10" y="108.40" width="2.0" height="2.0" fill="#000"/>
<rect x="429.50" y="109.30" width="2.0" height="2.0" fill="#000"/>
<rect x="431.80" y="110.20" width="2.0" height="2.0" fill="#000"/>
<rect x="434.10" y="110.50" width="2.0" height="2.0" fill="#000"/>
<rect x="436.40" y="110.70" width="2.0" height="2.0" fill="#000"/>
<rect x="438.70" y="110.90" width="2.0" height="2.0" fill="#000"/>
<rect x="441.00" y="110.70" width="2.0" height="2.0" fill="#000"/>
<rect x="443.30" y="110.40" width="2.0" height="2.0" fill="#000"/>
<rect x="445.60" y="110.20" width="2.0" height="2.0" fill="#000"/>
<rect x="447.90" y="110.50" width="2.0" height="2.0" fill="#000"/>
<rect x="450.20" y="110.70" width="2.0" height="2.0" fill="#000"/>
<rect x="452.50" y="111.30" width="2.0" height="2.0" fill="#000"/>
<rect x="454.20" y="111.60" width="2.0" height="2.0" fill="#000"/>
<rect x="456.00" y="112.50" width="2.0" height="2.0" fill="#000"/>
<rect x="457.70" y="113.40" width="2.0" height="2.0" fill="#000"/>
<rect x="459.40" y="114.20" width="2.0" height="2.0" fill="#000"/>
<rect x="461.50" y="114.40" width="2.0" height="2.0" fill="#000"/>
<rect x="463.60" y="114.30" width="2.0" height="2.0" fill="#000"/>
<rect x="465.60" y="114.40" width="2.0" height="2.0" fill="#000"/>
<text x="0.50" y="185.10" font-size="16.5" text-anchor="start" >C</text>
<text x="13.60" y="273.16" font-size="8.3" text-anchor="start" >0</text>
<text x="13.60" y="256.76" font-size="8.3" text-anchor="start" >0.5</text>
<text x="13.60" y="240.16" font-size="8.3" text-anchor="start" >1.0</text>
<text x="13.60" y="223.96" font-size="8.3" text-anchor="start" >1.5</text>
<text x="13.60" y="207.86" font-size="8.3" text-anchor="start" >2.0</text>
<text transform="translate(6.60,260.20) rotate(-90) scale(1.0,1)" font-size="8.9" text-anchor="start">VWF</text>
<text transform="translate(6.60,232.90) rotate(-90) scale(1.0,1)" font-size="9.0" text-anchor="start">(mU/mL)</text>
<rect x="42.60" y="264.40" width="18.40" height="6.60" fill="#fff" stroke="#777" stroke-width="0.8"/>
<rect x="61.30" y="260.50" width="18.50" height="10.50" fill="#b0b0b0" stroke="#777" stroke-width="0.8"/>
<rect x="79.80" y="261.90" width="18.70" height="9.10" fill="#2a2a2a" stroke="#111" stroke-width="0.8"/>
<line x1="51.80" y1="264.00" x2="51.80" y2="263.20" stroke="#666" stroke-width="0.8"/>
<line x1="50.55" y1="263.20" x2="53.05" y2="263.20" stroke="#666" stroke-width="0.8"/>
<line x1="70.40" y1="260.20" x2="70.40" y2="255.80" stroke="#666" stroke-width="0.8"/>
<line x1="69.15" y1="255.80" x2="71.65" y2="255.80" stroke="#666" stroke-width="0.8"/>
<line x1="89.10" y1="261.60" x2="89.10" y2="258.00" stroke="#666" stroke-width="0.8"/>
<line x1="87.85" y1="258.00" x2="90.35" y2="258.00" stroke="#666" stroke-width="0.8"/>
<rect x="126.40" y="210.40" width="18.90" height="60.60" fill="#fff" stroke="#666" stroke-width="0.8"/>
<rect x="145.30" y="245.00" width="18.50" height="26.00" fill="#b0b0b0" stroke="#666" stroke-width="0.8"/>
<rect x="163.80" y="242.00" width="18.60" height="29.00" fill="#2a2a2a" stroke="#111" stroke-width="0.8"/>
<line x1="135.80" y1="210.40" x2="135.80" y2="205.50" stroke="#666" stroke-width="0.8"/>
<line x1="134.55" y1="205.50" x2="137.05" y2="205.50" stroke="#666" stroke-width="0.8"/>
<line x1="154.50" y1="245.00" x2="154.50" y2="240.50" stroke="#666" stroke-width="0.8"/>
<line x1="153.25" y1="240.50" x2="155.75" y2="240.50" stroke="#666" stroke-width="0.8"/>
<line x1="173.10" y1="242.00" x2="173.10" y2="240.40" stroke="#666" stroke-width="0.8"/>
<line x1="171.85" y1="240.40" x2="174.35" y2="240.40" stroke="#666" stroke-width="0.8"/>
<text x="152.20" y="238.21" font-size="7.0" text-anchor="middle" >*</text>
<text x="155.90" y="238.21" font-size="7.0" text-anchor="middle" >*</text>
<text x="171.25" y="238.21" font-size="7.0" text-anchor="middle" >*</text>
<text x="174.95" y="238.21" font-size="7.0" text-anchor="middle" >*</text>
<rect x="28.6" y="197.5" width="167.6" height="73.5" fill="none" stroke="#333" stroke-width="1.1"/>
<line x1="113.80" y1="271.00" x2="113.80" y2="272.40" stroke="#262626" stroke-width="0.8"/>
<text x="71.60" y="283.30" font-size="9.0" text-anchor="middle" >Control</text>
<text x="154.60" y="282.80" font-size="9.0" text-anchor="middle" >VEGF</text>
<rect x="39.3" y="205.5" width="31.2" height="22.0" fill="#fff" stroke="#777" stroke-width="0.8"/>
<rect x="41.30" y="208.80" width="2.10" height="2.40" fill="#fff" stroke="#555" stroke-width="0.6"/>
<text x="44.90" y="212.71" font-size="7.0" text-anchor="start" >Media</text>
<rect x="41.30" y="215.80" width="2.10" height="2.40" fill="#b0b0b0" stroke="#555" stroke-width="0.6"/>
<text x="44.90" y="219.71" font-size="7.0" text-anchor="start" >BAPTA</text>
<rect x="41.30" y="223.10" width="2.10" height="2.40" fill="#111" stroke="#111" stroke-width="0.6"/>
<text x="44.90" y="227.01" font-size="7.0" text-anchor="start" >Ca-free</text>
<text x="212.80" y="185.40" font-size="16.5" text-anchor="start" >D</text>
<text transform="translate(252.00,288.62) scale(1.12,1)" font-size="10.8" text-anchor="start">0</text>
<text transform="translate(252.00,271.32) scale(1.12,1)" font-size="10.8" text-anchor="start">0.5</text>
<text transform="translate(252.00,253.22) scale(1.12,1)" font-size="10.8" text-anchor="start">1.0</text>
<text transform="translate(252.00,234.82) scale(1.12,1)" font-size="10.8" text-anchor="start">1.5</text>
<text transform="translate(252.00,217.12) scale(1.12,1)" font-size="10.8" text-anchor="start">2.0</text>
<text transform="translate(252.00,199.32) scale(1.12,1)" font-size="10.8" text-anchor="start">2.5</text>
<text transform="translate(239.2,279.9) rotate(-90)" font-size="12" letter-spacing="0.85">VWF</text>
<text transform="translate(239.20,243.40) rotate(-90) scale(1.0,1)" font-size="12.0" text-anchor="start">(mU/mL)</text>
<rect x="280.45" y="271.20" width="10.20" height="12.20" fill="#fff" stroke="#333" stroke-width="0.9"/>
<line x1="284.35" y1="270.80" x2="286.75" y2="270.80" stroke="#444" stroke-width="0.7"/>
<rect x="304.80" y="205.80" width="10.30" height="77.60" fill="#000" stroke="none" stroke-width="1"/>
<line x1="309.95" y1="205.80" x2="309.95" y2="204.00" stroke="#444" stroke-width="0.8"/>
<line x1="308.85" y1="204.00" x2="311.05" y2="204.00" stroke="#444" stroke-width="0.8"/>
<rect x="329.60" y="243.00" width="10.40" height="40.40" fill="#000" stroke="none" stroke-width="1"/>
<line x1="334.80" y1="243.00" x2="334.80" y2="240.20" stroke="#444" stroke-width="0.8"/>
<line x1="333.70" y1="240.20" x2="335.90" y2="240.20" stroke="#444" stroke-width="0.8"/>
<text x="330.65" y="238.52" font-size="9.0" text-anchor="middle" >*</text>
<text x="335.55" y="238.52" font-size="9.0" text-anchor="middle" >*</text>
<rect x="354.00" y="265.30" width="10.40" height="18.10" fill="#000" stroke="none" stroke-width="1"/>
<line x1="359.20" y1="265.30" x2="359.20" y2="262.10" stroke="#444" stroke-width="0.8"/>
<line x1="358.10" y1="262.10" x2="360.30" y2="262.10" stroke="#444" stroke-width="0.8"/>
<text x="355.60" y="261.32" font-size="9.0" text-anchor="middle" >*</text>
<text x="360.50" y="261.32" font-size="9.0" text-anchor="middle" >*</text>
<rect x="378.90" y="270.90" width="10.20" height="12.50" fill="#000" stroke="none" stroke-width="1"/>
<line x1="384.00" y1="270.90" x2="384.00" y2="270.20" stroke="#444" stroke-width="0.8"/>
<line x1="382.90" y1="270.20" x2="385.10" y2="270.20" stroke="#444" stroke-width="0.8"/>
<text x="379.85" y="269.02" font-size="9.0" text-anchor="middle" >*</text>
<text x="384.75" y="269.02" font-size="9.0" text-anchor="middle" >*</text>
<rect x="403.10" y="270.90" width="10.20" height="12.50" fill="#000" stroke="none" stroke-width="1"/>
<line x1="408.20" y1="270.90" x2="408.20" y2="270.40" stroke="#444" stroke-width="0.8"/>
<line x1="407.10" y1="270.40" x2="409.30" y2="270.40" stroke="#444" stroke-width="0.8"/>
<rect x="428.10" y="252.50" width="9.60" height="30.90" fill="#b9b9b9" stroke="#444" stroke-width="1.0"/>
<line x1="432.90" y1="252.00" x2="432.90" y2="251.50" stroke="#444" stroke-width="0.8"/>
<line x1="431.80" y1="251.50" x2="434.00" y2="251.50" stroke="#444" stroke-width="0.8"/>
<text x="428.45" y="250.12" font-size="9.0" text-anchor="middle" >*</text>
<text x="433.35" y="250.12" font-size="9.0" text-anchor="middle" >*</text>
<rect x="452.50" y="258.80" width="9.60" height="24.60" fill="#b9b9b9" stroke="#444" stroke-width="1.0"/>
<line x1="457.30" y1="258.30" x2="457.30" y2="256.90" stroke="#444" stroke-width="0.8"/>
<line x1="456.20" y1="256.90" x2="458.40" y2="256.90" stroke="#444" stroke-width="0.8"/>
<text x="453.25" y="255.62" font-size="9.0" text-anchor="middle" >*</text>
<text x="458.15" y="255.62" font-size="9.0" text-anchor="middle" >*</text>
<rect x="477.10" y="273.50" width="9.80" height="9.90" fill="#b9b9b9" stroke="#444" stroke-width="1.0"/>
<line x1="482.00" y1="273.00" x2="482.00" y2="272.30" stroke="#444" stroke-width="0.8"/>
<line x1="480.90" y1="272.30" x2="483.10" y2="272.30" stroke="#444" stroke-width="0.8"/>
<text x="478.05" y="271.12" font-size="9.0" text-anchor="middle" >*</text>
<text x="482.95" y="271.12" font-size="9.0" text-anchor="middle" >*</text>
<rect x="501.90" y="272.80" width="9.60" height="10.60" fill="#b9b9b9" stroke="#444" stroke-width="1.0"/>
<line x1="506.70" y1="272.30" x2="506.70" y2="271.40" stroke="#444" stroke-width="0.8"/>
<line x1="505.60" y1="271.40" x2="507.80" y2="271.40" stroke="#444" stroke-width="0.8"/>
<rect x="272.6" y="193.4" width="245.8" height="90.0" fill="none" stroke="#2a2a2a" stroke-width="1.1"/>
<line x1="297.50" y1="283.40" x2="297.50" y2="284.80" stroke="#262626" stroke-width="0.8"/>
<line x1="322.30" y1="283.40" x2="322.30" y2="284.80" stroke="#262626" stroke-width="0.8"/>
<line x1="347.00" y1="283.40" x2="347.00" y2="284.80" stroke="#262626" stroke-width="0.8"/>
<line x1="371.60" y1="283.40" x2="371.60" y2="284.80" stroke="#262626" stroke-width="0.8"/>
<line x1="396.10" y1="283.40" x2="396.10" y2="284.80" stroke="#262626" stroke-width="0.8"/>
<line x1="420.40" y1="283.40" x2="420.40" y2="284.80" stroke="#262626" stroke-width="0.8"/>
<line x1="445.00" y1="283.40" x2="445.00" y2="284.80" stroke="#262626" stroke-width="0.8"/>
<line x1="469.80" y1="283.40" x2="469.80" y2="284.80" stroke="#262626" stroke-width="0.8"/>
<line x1="494.60" y1="283.40" x2="494.60" y2="284.80" stroke="#262626" stroke-width="0.8"/>
<text transform="translate(234.70,300.94) scale(1.03,1)" font-size="9.7" text-anchor="middle">VEGF</text>
<text transform="translate(236.20,317.80) scale(1.04,1)" font-size="9.6" text-anchor="middle">U73122</text>
<text x="233.80" y="326.97" font-size="9.5" text-anchor="middle" >(mM)</text>
<text x="240.0" y="342.0" font-size="9.5" text-anchor="middle" letter-spacing="0.3">Calphostin</text>
<text x="234.60" y="351.13" font-size="9.4" text-anchor="middle" >(nM)</text>
<text x="285.70" y="301.24" font-size="10.0" text-anchor="middle" >-</text>
<text x="285.70" y="317.84" font-size="10.0" text-anchor="middle" >-</text>
<text x="288.40" y="342.44" font-size="10.0" text-anchor="middle" >-</text>
<text x="310.40" y="301.24" font-size="10.0" text-anchor="middle" >+</text>
<text x="310.40" y="317.84" font-size="10.0" text-anchor="middle" >0</text>
<text x="311.80" y="342.44" font-size="10.0" text-anchor="middle" >-</text>
<text x="336.30" y="301.24" font-size="10.0" text-anchor="middle" >+</text>
<text x="336.30" y="317.84" font-size="10.0" text-anchor="middle" >0.1</text>
<text x="338.30" y="342.44" font-size="10.0" text-anchor="middle" >-</text>
<text x="359.00" y="301.24" font-size="10.0" text-anchor="middle" >+</text>
<text x="359.00" y="317.84" font-size="10.0" text-anchor="middle" >1</text>
<text x="362.30" y="342.44" font-size="10.0" text-anchor="middle" >-</text>
<text x="384.00" y="301.24" font-size="10.0" text-anchor="middle" >+</text>
<text x="384.00" y="317.84" font-size="10.0" text-anchor="middle" >10</text>
<text x="385.90" y="342.44" font-size="10.0" text-anchor="middle" >-</text>
<text x="408.60" y="301.24" font-size="10.0" text-anchor="middle" >-</text>
<text x="408.60" y="317.84" font-size="10.0" text-anchor="middle" >10</text>
<text x="409.90" y="342.44" font-size="10.0" text-anchor="middle" >-</text>
<text x="434.60" y="301.24" font-size="10.0" text-anchor="middle" >+</text>
<text x="434.60" y="317.84" font-size="10.0" text-anchor="middle" >-</text>
<text x="431.30" y="342.44" font-size="10.0" text-anchor="middle" >1</text>
<text x="460.00" y="301.24" font-size="10.0" text-anchor="middle" >+</text>
<text x="460.00" y="317.84" font-size="10.0" text-anchor="middle" >-</text>
<text x="457.50" y="342.44" font-size="10.0" text-anchor="middle" >10</text>
<text x="482.60" y="301.24" font-size="10.0" text-anchor="middle" >+</text>
<text x="482.60" y="317.84" font-size="10.0" text-anchor="middle" >-</text>
<text x="483.00" y="342.44" font-size="10.0" text-anchor="middle" >100</text>
<text x="507.50" y="301.24" font-size="10.0" text-anchor="middle" >-</text>
<text x="507.50" y="317.84" font-size="10.0" text-anchor="middle" >-</text>
<text x="505.50" y="342.44" font-size="10.0" text-anchor="middle" >100</text>
</svg>
</body></html>
